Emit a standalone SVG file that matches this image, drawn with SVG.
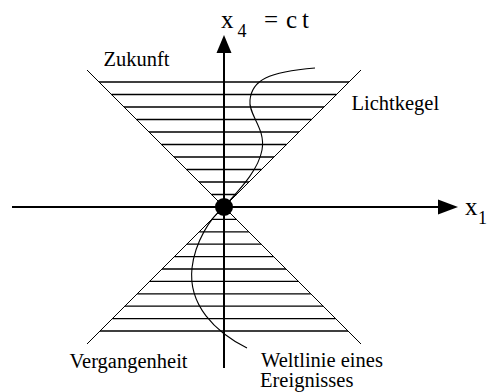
<svg xmlns="http://www.w3.org/2000/svg" width="489" height="392" viewBox="0 0 489 392">
  <style>
    text { font-family: "Liberation Serif", "Times New Roman", serif; fill: #000; }
    .lbl { font-size: 20.5px; }
    .ax { font-size: 25px; }
    .sub { font-size: 18px; }
    .axis { stroke: #000; stroke-width: 2; fill: none; }
    .cone { stroke: #000; stroke-width: 1; fill: none; }
    .hatch { stroke: #000; stroke-width: 1.3; fill: none; }
    .world { stroke: #000; stroke-width: 1.1; fill: none; }
  </style>
  <rect width="489" height="392" fill="#fff"/>

  <g id="hatching">
    <path class="hatch" d="M211.5,194.5 H236.5 M199,182 H249 M186.5,169.5 H261.5 M174,157 H274 M161.5,144.5 H286.5 M149,132 H299 M136.5,119.5 H311.5 M124,107 H324 M111.5,94.5 H336.5 M99,82 H349"/>
    <path class="hatch" d="M211.6,219.4 H236.4 M199.2,231.8 H248.8 M186.8,244.2 H261.2 M174.4,256.6 H273.6 M162,269 H286 M149.6,281.4 H298.4 M137.2,293.8 H310.8 M124.8,306.2 H323.2 M112.4,318.6 H335.6 M100,331 H348"/>
  </g>

  <g id="light-cone">
    <path class="cone" d="M87,70 L361,344 M361,70 L87,344"/>
  </g>

  <g id="connectors">
    <line class="axis" x1="12" y1="207" x2="438" y2="207"/>
    <path d="M438,199.5 L458,207 L438,214.5 Z" fill="#000"/>
    <line class="axis" x1="224" y1="368" x2="224" y2="53"/>
    <path d="M216.5,53 L224,35 L231.5,53 Z" fill="#000"/>
  </g>

  <g id="worldline">
    <path class="world" d="M247,348 C 215,332 188,305 192,268 C 195,242 210,218 224,207 C 236,193 258,172 262,150 C 266,128 248,115 250,100 C 252,80 268,72 315,68"/>
  </g>

  <g id="event">
    <circle cx="224" cy="207" r="9" fill="#000"/>
  </g>

  <g id="label-x4">
    <text class="ax" x="221" y="27.5">x</text>
    <text class="sub" x="237.5" y="37">4</text>
    <text class="ax" x="264" y="27.5">=</text>
    <text class="ax" x="286" y="27.5">c</text>
    <text class="ax" x="302" y="27.5">t</text>
  </g>
  <g id="label-x1">
    <text class="ax" x="465" y="214.5">x</text>
    <text class="sub" x="478" y="224">1</text>
  </g>
  <g id="label-zukunft"><text class="lbl" x="103.5" y="65.7">Zukunft</text></g>
  <g id="label-lichtkegel"><text class="lbl" x="351.5" y="110">Lichtkegel</text></g>
  <g id="label-vergangenheit"><text class="lbl" x="69.5" y="367.5">Vergangenheit</text></g>
  <g id="label-weltlinie">
    <text class="lbl" x="261" y="367">Weltlinie eines</text>
    <text class="lbl" x="260" y="387">Ereignisses</text>
  </g>
</svg>
